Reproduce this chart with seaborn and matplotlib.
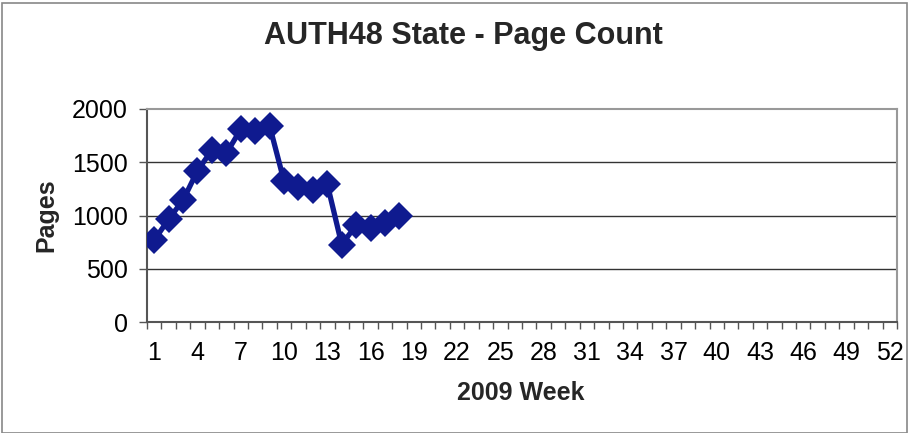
import matplotlib
matplotlib.use("Agg")
import matplotlib.pyplot as plt
import seaborn as sns
import pandas as pd
import numpy as np
from matplotlib.patches import Rectangle

weeks = list(range(1, 19))
pages = [768, 965, 1144, 1420, 1614, 1583, 1809, 1796, 1843,
         1323, 1263, 1238, 1295, 727, 909, 878, 925, 997]
tick_weeks = list(range(1, 53, 3))
y_ticks = [0, 500, 1000, 1500, 2000]

sns.set_theme(style="white")
plt.rcParams['font.family'] = ['Liberation Sans', 'DejaVu Sans']

df = pd.DataFrame({"week": weeks, "pages": pages})

fig = plt.figure(figsize=(9.09, 4.33), dpi=100)
ax = fig.add_axes([147/909, (433-322)/433, 750/909, 213/433])

sns.lineplot(data=df, x="week", y="pages", ax=ax, color="#0f1a8f",
             linewidth=3.8, marker="D", markersize=14, markeredgewidth=0,
             zorder=3)

ax.set_xlim(0.5, 52.5)
ax.set_ylim(0, 2000)
ax.set_yticks(y_ticks)
ax.set_yticklabels([str(v) for v in y_ticks], fontsize=18)
ax.set_xticks(tick_weeks)
ax.set_xticklabels([str(v) for v in tick_weeks], fontsize=18)
ax.set_xticks(np.arange(0.5, 53, 1), minor=True)
ax.tick_params(axis="x", which="major", length=0, pad=14, colors="black")
ax.tick_params(axis="x", which="minor", length=5, width=1, color="#555555",
               direction="out", bottom=True)
ax.tick_params(axis="y", length=6, width=1, color="#555555", direction="out",
               left=True, pad=8, colors="black")

for v in y_ticks[1:-1]:
    ax.axhline(v, color="#333333", linewidth=1, zorder=1)

for side in ["top", "right"]:
    ax.spines[side].set_color("#999999")
    ax.spines[side].set_linewidth(1.5)
for side in ["left", "bottom"]:
    ax.spines[side].set_color("#555555")
    ax.spines[side].set_linewidth(1.5)

ax.set_xlabel("2009 Week", fontsize=18, fontweight="bold")
ax.set_ylabel("Pages", fontsize=18, fontweight="bold")
ax.xaxis.set_label_coords((521-147)/750, -(381-322)/213)
ax.yaxis.set_label_coords(-(147-58)/750, 0.5)

fig.text(463/909, 1 - 36/433, "AUTH48 State - Page Count", ha="center",
         va="center", fontsize=22, fontweight="bold")

fig.patches.append(Rectangle((2/909, 0), 1 - 4/909, 1 - 3/433,
                             transform=fig.transFigure, fill=False,
                             edgecolor="#888888", linewidth=1.2))

fig.savefig("out.png", dpi=100)
